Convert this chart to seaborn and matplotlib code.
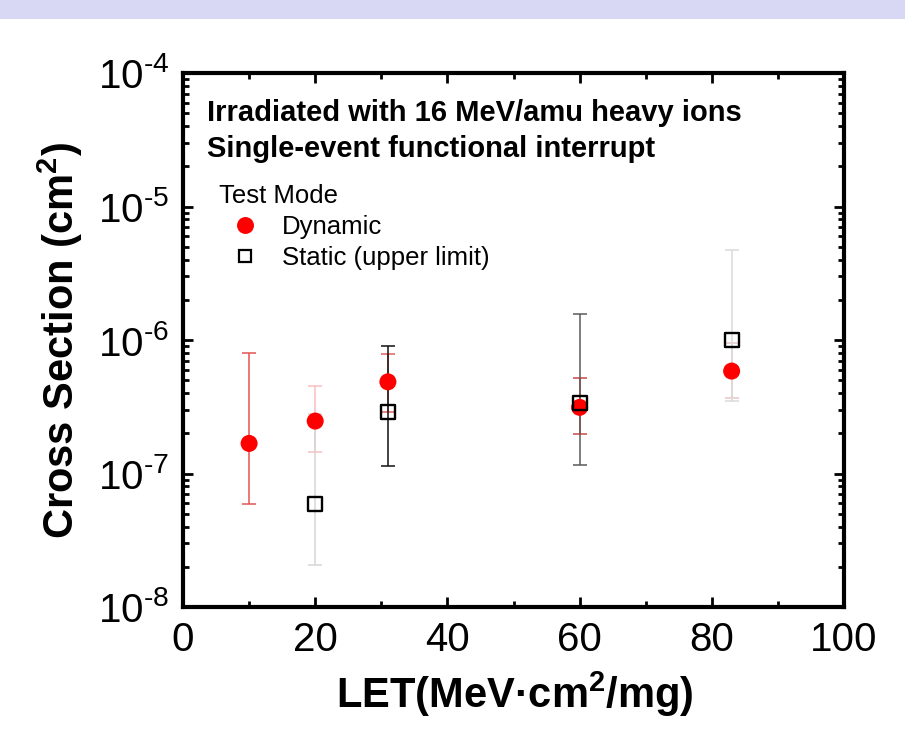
import numpy as np
import pandas as pd
import matplotlib
matplotlib.use("Agg")
import matplotlib.pyplot as plt
import seaborn as sns
from matplotlib.lines import Line2D
from matplotlib.patches import Rectangle
from matplotlib.ticker import LogLocator, MultipleLocator, NullFormatter, FuncFormatter

# ---------------- data ----------------
let_dynamic = [10, 20, 31, 60, 83]
cs_dynamic = [1.68e-7, 2.47e-7, 4.86e-7, 3.13e-7, 5.85e-7]
dynamic_low = [5.95e-8, 1.45e-7, 2.9e-7, 1.99e-7, 3.68e-7]
dynamic_high = [7.98e-7, 4.5e-7, 7.9e-7, 5.2e-7, 9.5e-7]

let_static = [20, 31, 60, 83]
cs_static = [5.95e-8, 2.87e-7, 3.36e-7, 1.0e-6]
static_low = [2.07e-8, 1.13e-7, 1.15e-7, 3.5e-7]
static_high = [2.8e-7, 9.0e-7, 1.57e-6, 4.75e-6]

x_ticks = [0, 20, 40, 60, 80, 100]
series_labels = ["Dynamic", "Static (upper limit)"]
legend_title = "Test Mode"
notes = ["Irradiated with 16 MeV/amu heavy ions", "Single-event functional interrupt"]

# per-point error bar styling (as in the reference)
dyn_err_colors = ["#e25555", "#f6c0c0", "#e06060", "#d04545", "#e8c8c8"]
dyn_cap_colors = ["#e04848", "#f0a8a8", "#e06060", "#c83838", "#b83030"]
sta_err_colors = ["#d6d6d6", "#111111", "#5a5a5a", "#dadada"]
sta_cap_colors = ["#6a6a6a", "#111111", "#555555", "#444444"]

# ---------------- style ----------------
sns.set_theme(style="ticks")
plt.rcParams["font.family"] = ["Liberation Sans", "DejaVu Sans"]
plt.rcParams["mathtext.fontset"] = "custom"
plt.rcParams["mathtext.rm"] = "Liberation Sans"
plt.rcParams["mathtext.it"] = "Liberation Sans:italic"
plt.rcParams["mathtext.bf"] = "Liberation Sans:bold"
plt.rcParams["text.color"] = "black"
plt.rcParams["axes.labelcolor"] = "black"
plt.rcParams["xtick.color"] = "black"
plt.rcParams["ytick.color"] = "black"
plt.rcParams["axes.unicode_minus"] = False

W, H = 905, 732
fig = plt.figure(figsize=(W / 100, H / 100), dpi=100)
fig.patch.set_facecolor("white")
fig.patches.append(Rectangle((0, 1 - 19 / H), 1, 19 / H, transform=fig.transFigure,
                             facecolor="#D8D8F4", edgecolor="none", zorder=0))

ax = fig.add_axes([183 / W, 125 / H, 661 / W, 534 / H])

# error bars
for x, y, lo, hi, ec, cc in zip(let_dynamic, cs_dynamic, dynamic_low, dynamic_high,
                                dyn_err_colors, dyn_cap_colors):
    _, caps, _ = ax.errorbar([x], [y], yerr=[[y - lo], [hi - y]], fmt="none",
                             ecolor=ec, elinewidth=1.1, capsize=5, capthick=1.1, zorder=2)
    for c in caps:
        c.set_color(cc)
for x, y, lo, hi, ec, cc in zip(let_static, cs_static, static_low, static_high,
                                sta_err_colors, sta_cap_colors):
    _, caps, _ = ax.errorbar([x], [y], yerr=[[y - lo], [hi - y]], fmt="none",
                             ecolor=ec, elinewidth=1.1, capsize=5, capthick=1.1, zorder=2.1)
    for c in caps:
        c.set_color(cc)

df_dyn = pd.DataFrame({"LET": let_dynamic, "CS": cs_dynamic})
df_sta = pd.DataFrame({"LET": let_static, "CS": cs_static})

sns.scatterplot(data=df_dyn, x="LET", y="CS", ax=ax, marker="o", s=150,
                color="#FF0000", edgecolor="none", linewidth=0, zorder=3, legend=False)
sns.scatterplot(data=df_sta, x="LET", y="CS", ax=ax, marker="s", s=100,
                color="black", linewidth=1.6, zorder=4, legend=False)
sq = ax.collections[-1]
sq.set_facecolor("none")
sq.set_edgecolor("black")
sq.set_linewidth(1.7)

ax.set_yscale("log")
ax.set_xlim(0, 100)
ax.set_ylim(1e-8, 1e-4)
ax.set_xticks(x_ticks)
ax.set_xticklabels([str(t) for t in x_ticks])
ax.xaxis.set_minor_locator(MultipleLocator(10))
ax.yaxis.set_major_locator(LogLocator(base=10, numticks=10))
ax.yaxis.set_major_formatter(FuncFormatter(
    lambda v, pos: r"$\mathregular{10^{\text{-%d}}}$" % int(round(-np.log10(v)))))
ax.yaxis.set_minor_locator(LogLocator(base=10, subs=np.arange(2, 10), numticks=100))
ax.yaxis.set_minor_formatter(NullFormatter())

ax.tick_params(which="both", direction="in", top=True, right=True, width=2, color="black")
ax.tick_params(which="major", length=7.5)
ax.tick_params(which="minor", length=4)
ax.tick_params(axis="x", which="major", labelsize=29, pad=10)
ax.tick_params(axis="y", which="major", labelsize=29, pad=10)
for s in ax.spines.values():
    s.set_linewidth(3)
    s.set_color("black")

ax.set_xlabel("")
ax.set_ylabel("")
fig.text(60 / W, 1 - 341 / H, r"Cross Section (cm$^\mathbf{2}$)", rotation=90,
         fontsize=30, fontweight="bold", ha="center", va="center")
fig.text(515 / W, 1 - 708 / H, r"LET(MeV·cm$^\mathbf{2}$/mg)",
         fontsize=30, fontweight="bold", ha="center", va="baseline")

fig.text(207 / W, 1 - 121 / H, notes[0], fontsize=21, fontweight="bold",
         ha="left", va="baseline")
fig.text(207 / W, 1 - 157 / H, notes[1], fontsize=21, fontweight="bold",
         ha="left", va="baseline")

handles = [
    Line2D([], [], marker="o", linestyle="none", markersize=12.2,
           markerfacecolor="#FF0000", markeredgewidth=0),
    Line2D([], [], marker="s", linestyle="none", markersize=9,
           markerfacecolor="none", markeredgecolor="black", markeredgewidth=1.6),
]
leg = ax.legend(handles, series_labels, title=legend_title, loc="upper left",
                bbox_to_anchor=(219 / W, 1 - 184 / H), bbox_transform=fig.transFigure,
                frameon=False, fontsize=18.5, title_fontsize=18.5, alignment="left",
                borderpad=0, borderaxespad=0, handlelength=2.0, handletextpad=0.45,
                labelspacing=0.28)

fig.savefig("out.png", dpi=100)
